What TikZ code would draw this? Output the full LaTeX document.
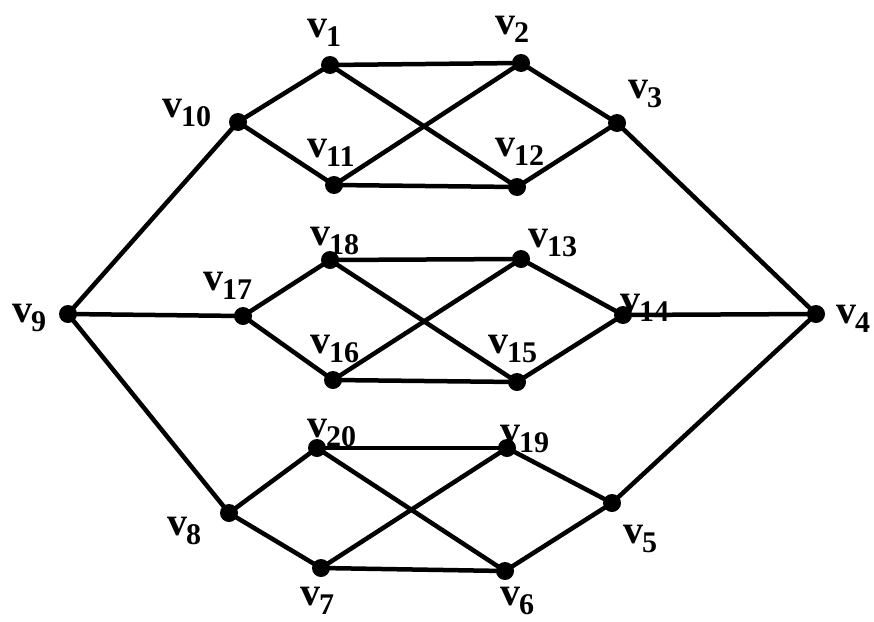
\documentclass[tikz,border=0pt]{standalone}
\usepackage{fontspec}
\setmainfont{Liberation Serif}
\newcommand{\vlab}[1]{\fontsize{40}{40}\selectfont\bfseries v\kern-1pt\raisebox{-9pt}{\fontsize{30}{30}\selectfont #1}}
\begin{document}
\begin{tikzpicture}[x=1pt,y=-1pt,
  dot/.style={circle,fill=black,inner sep=0pt,minimum size=18pt},
  edge/.style={line width=4.5pt},
  lab/.style={anchor=base west,inner sep=0pt}]
\useasboundingbox (0,0) rectangle (874,621);
% vertices
\node[dot] (v1) at (330,65) {};
\node[dot] (v2) at (521,63) {};
\node[dot] (v3) at (617,123) {};
\node[dot] (v4) at (816,314) {};
\node[dot] (v5) at (612,503) {};
\node[dot] (v6) at (505,571) {};
\node[dot] (v7) at (321,568) {};
\node[dot] (v8) at (229,513) {};
\node[dot] (v9) at (68,314) {};
\node[dot] (v10) at (238,122) {};
\node[dot] (v11) at (334,185) {};
\node[dot] (v12) at (517,187) {};
\node[dot] (v13) at (521,259) {};
\node[dot] (v14) at (623,315) {};
\node[dot] (v15) at (517,382) {};
\node[dot] (v16) at (333,380) {};
\node[dot] (v17) at (243,316) {};
\node[dot] (v18) at (330,260) {};
\node[dot] (v19) at (507,448) {};
\node[dot] (v20) at (317,448) {};
% edges
\foreach \a/\b in {v1/v2,v1/v10,v1/v12,v2/v11,v2/v3,v10/v11,v11/v12,v12/v3,v10/v9,v3/v4,
  v9/v17,v17/v18,v17/v16,v18/v13,v18/v15,v16/v13,v16/v15,v13/v14,v15/v14,v14/v4,
  v9/v8,v8/v20,v8/v7,v20/v19,v20/v6,v7/v19,v7/v6,v19/v5,v6/v5,v5/v4}
  \draw[edge] (\a.center) -- (\b.center);
% labels
\node[lab] (l1) at (307,37) {\vlab{1}};
\node[lab] (l2) at (495,34) {\vlab{2}};
\node[lab] (l3) at (628,98) {\vlab{3}};
\node[lab] (l4) at (836,323) {\vlab{4}};
\node[lab] (l5) at (623,543) {\vlab{5}};
\node[lab] (l6) at (500,605) {\vlab{6}};
\node[lab] (l7) at (300,605) {\vlab{7}};
\node[lab] (l8) at (167,535) {\vlab{8}};
\node[lab] (l9) at (12,322) {\vlab{9}};
\node[lab] (l10) at (162,117) {\vlab{10}};
\node[lab] (l11) at (307,157) {\vlab{11}};
\node[lab] (l12) at (495,156) {\vlab{12}};
\node[lab] (l13) at (528,247) {\vlab{13}};
\node[lab] (l14) at (620,312) {\vlab{14}};
\node[lab] (l15) at (488,353) {\vlab{15}};
\node[lab] (l16) at (310,353) {\vlab{16}};
\node[lab] (l17) at (203,290) {\vlab{17}};
\node[lab] (l18) at (310,245) {\vlab{18}};
\node[lab] (l19) at (500,443) {\vlab{19}};
\node[lab] (l20) at (307,437) {\vlab{20}};
\end{tikzpicture}
\end{document}
